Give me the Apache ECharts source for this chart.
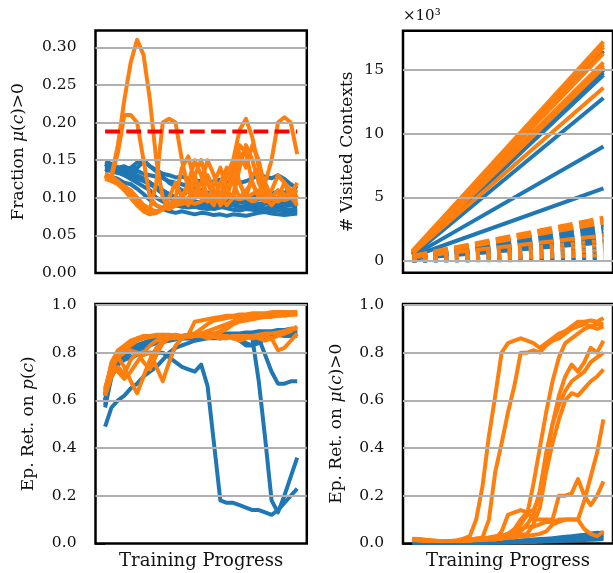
<!DOCTYPE html>
<html><head><meta charset="utf-8">
<script src="https://cdn.jsdelivr.net/npm/echarts@6/dist/echarts.min.js"></script>
<style>html,body{margin:0;padding:0;background:#fff}#c{width:613px;height:573px}</style>
</head><body><div id="c"></div><script>
// ---------- shared x positions (training progress steps) ----------
const progress = [0,1,2,3,4,5,6,7,8,9,10,11,12,13,14,15,16,17,18,19,20,21,22,23,24,25,26,27,28,29,30];
const visitedX = [0, 30];

// ---------- tick labels ----------
const fracTicks = [0, 0.05, 0.10, 0.15, 0.20, 0.25, 0.30];
const visitedTicks = [0, 5, 10, 15];
const retTicks = [0, 0.2, 0.4, 0.6, 0.8, 1.0];
const threshold = 0.188;

// ---------- Fraction mu(c)>0 : blue runs ----------
const fracB1 = [0.145,0.14,0.135,0.13,0.125,0.12,0.115,0.11,0.10,0.095,0.092,0.09,0.088,0.087,0.088,0.086,0.085,0.087,0.088,0.086,0.084,0.083,0.085,0.084,0.083,0.082,0.084,0.083,0.082,0.081,0.080];
const fracB2 = [0.14,0.142,0.138,0.135,0.13,0.128,0.125,0.12,0.115,0.11,0.105,0.10,0.098,0.096,0.095,0.094,0.093,0.092,0.09,0.089,0.09,0.088,0.087,0.088,0.087,0.086,0.087,0.086,0.085,0.084,0.085];
const fracB3 = [0.148,0.145,0.14,0.142,0.138,0.14,0.148,0.142,0.137,0.132,0.13,0.127,0.128,0.125,0.123,0.122,0.12,0.122,0.124,0.121,0.119,0.12,0.122,0.126,0.13,0.128,0.126,0.13,0.125,0.118,0.112];
const fracB4 = [0.135,0.138,0.14,0.137,0.14,0.147,0.15,0.142,0.135,0.128,0.12,0.115,0.11,0.108,0.105,0.10,0.098,0.095,0.093,0.095,0.097,0.098,0.10,0.102,0.105,0.104,0.106,0.108,0.107,0.11,0.108];
const fracB5 = [0.13,0.128,0.125,0.12,0.118,0.112,0.105,0.097,0.09,0.085,0.082,0.08,0.082,0.08,0.078,0.08,0.079,0.077,0.078,0.076,0.078,0.077,0.076,0.078,0.08,0.081,0.079,0.078,0.077,0.078,0.079];
const fracB6 = [0.142,0.14,0.138,0.136,0.133,0.13,0.126,0.12,0.112,0.105,0.10,0.097,0.095,0.093,0.09,0.088,0.086,0.085,0.087,0.09,0.092,0.094,0.093,0.091,0.09,0.092,0.094,0.095,0.093,0.092,0.094];
const fracB7 = [0.138,0.135,0.133,0.13,0.128,0.125,0.122,0.118,0.113,0.108,0.104,0.10,0.097,0.096,0.094,0.092,0.09,0.089,0.091,0.092,0.09,0.088,0.089,0.09,0.092,0.093,0.091,0.09,0.089,0.09,0.088];
const fracB8 = [0.145,0.143,0.14,0.138,0.135,0.136,0.132,0.13,0.128,0.126,0.122,0.12,0.118,0.115,0.112,0.11,0.107,0.105,0.104,0.102,0.10,0.098,0.097,0.096,0.098,0.10,0.099,0.097,0.096,0.095,0.094];
// ---------- Fraction mu(c)>0 : orange runs ----------
const fracO1 = [0.125,0.13,0.17,0.23,0.28,0.31,0.29,0.23,0.15,0.10,0.085,0.09,0.10,0.095,0.092,0.095,0.10,0.098,0.10,0.105,0.10,0.098,0.10,0.105,0.11,0.10,0.098,0.10,0.097,0.10,0.10];
const fracO2 = [0.13,0.128,0.16,0.21,0.21,0.20,0.15,0.10,0.09,0.087,0.085,0.09,0.10,0.12,0.15,0.13,0.10,0.09,0.12,0.14,0.12,0.10,0.11,0.12,0.10,0.095,0.10,0.11,0.10,0.105,0.11];
const fracO3 = [0.13,0.125,0.12,0.115,0.11,0.10,0.09,0.085,0.12,0.20,0.205,0.20,0.15,0.11,0.10,0.12,0.15,0.13,0.10,0.09,0.10,0.14,0.17,0.15,0.12,0.10,0.11,0.13,0.12,0.10,0.095];
const fracO4 = [0.128,0.125,0.12,0.115,0.108,0.10,0.09,0.085,0.08,0.085,0.09,0.10,0.14,0.155,0.12,0.10,0.13,0.11,0.09,0.10,0.15,0.19,0.205,0.18,0.14,0.10,0.09,0.10,0.12,0.11,0.10];
const fracO5 = [0.132,0.128,0.122,0.115,0.105,0.095,0.088,0.082,0.08,0.085,0.10,0.12,0.10,0.09,0.13,0.15,0.12,0.10,0.095,0.11,0.13,0.12,0.10,0.095,0.10,0.12,0.15,0.20,0.207,0.20,0.158];
const fracO6 = [0.125,0.122,0.118,0.11,0.10,0.09,0.082,0.078,0.08,0.085,0.09,0.095,0.10,0.11,0.13,0.10,0.095,0.12,0.14,0.11,0.10,0.16,0.14,0.17,0.15,0.11,0.10,0.095,0.10,0.105,0.12];
const fracO7 = [0.13,0.127,0.12,0.112,0.10,0.09,0.085,0.08,0.082,0.085,0.088,0.09,0.092,0.095,0.10,0.105,0.10,0.098,0.10,0.13,0.15,0.12,0.10,0.13,0.14,0.12,0.10,0.098,0.10,0.102,0.09];
const fracO8 = [0.128,0.125,0.12,0.112,0.105,0.097,0.09,0.085,0.082,0.085,0.09,0.093,0.095,0.10,0.11,0.10,0.098,0.10,0.12,0.10,0.13,0.17,0.16,0.12,0.10,0.098,0.10,0.11,0.105,0.10,0.105];

// ---------- # Visited Contexts (x1000): [start, end] per run ----------
const visSolidBlue = [[0.6,16.5],[0.55,15.2],[0.5,15.0],[0.6,14.8],[0.5,14.6],[0.45,12.8],[0.4,9.0],[0.35,5.7]];
const visSolidOrange = [[0.8,17.23],[0.75,17.0],[0.8,16.8],[0.7,16.3],[0.7,15.6],[0.65,15.4],[0.6,15.2],[0.6,13.6]];
const visDashBlue = [[0.35,2.85],[0.3,2.6],[0.3,2.3],[0.25,2.05],[0.25,1.7],[0.2,1.45]];
const visDashOrange = [[0.4,3.4],[0.4,3.2],[0.35,3.0],[0.3,2.0]];
const visDotBlue = [[0.05,1.05],[0.05,0.65],[0.03,0.3],[0.02,0.1]];
const visDotOrange = [[0.08,1.6],[0.06,1.25],[0.05,0.85],[0.04,0.45]];

// ---------- Ep. Ret. on p(c) : blue runs ----------
const retB1 = [0.49,0.57,0.6,0.62,0.65,0.67,0.7,0.72,0.74,0.77,0.8,0.82,0.83,0.84,0.85,0.855,0.86,0.86,0.86,0.865,0.87,0.87,0.87,0.87,0.865,0.87,0.87,0.875,0.87,0.87,0.87];
const retB2 = [0.57,0.7,0.75,0.77,0.78,0.79,0.8,0.8,0.8,0.8,0.78,0.76,0.74,0.73,0.72,0.75,0.66,0.42,0.18,0.17,0.17,0.16,0.15,0.14,0.14,0.13,0.12,0.14,0.17,0.2,0.23];
const retB3 = [0.6,0.73,0.78,0.8,0.82,0.83,0.84,0.845,0.85,0.855,0.86,0.86,0.86,0.865,0.865,0.87,0.87,0.87,0.875,0.87,0.86,0.86,0.87,0.86,0.68,0.44,0.18,0.13,0.2,0.28,0.36];
const retB4 = [0.62,0.74,0.79,0.81,0.82,0.83,0.84,0.85,0.85,0.855,0.86,0.86,0.86,0.865,0.87,0.87,0.87,0.865,0.86,0.87,0.87,0.85,0.83,0.83,0.86,0.79,0.72,0.67,0.67,0.68,0.68];
const retB5 = [0.58,0.72,0.77,0.8,0.81,0.82,0.83,0.84,0.845,0.85,0.855,0.86,0.86,0.86,0.865,0.865,0.87,0.865,0.86,0.87,0.87,0.87,0.865,0.87,0.875,0.875,0.88,0.88,0.88,0.885,0.885];
const retB6 = [0.62,0.74,0.79,0.81,0.82,0.83,0.84,0.85,0.855,0.86,0.86,0.865,0.86,0.86,0.87,0.87,0.87,0.87,0.875,0.87,0.87,0.86,0.84,0.83,0.84,0.86,0.87,0.875,0.88,0.88,0.88];
const retB7 = [0.6,0.7,0.75,0.78,0.8,0.81,0.82,0.83,0.84,0.845,0.85,0.855,0.86,0.86,0.86,0.86,0.865,0.87,0.87,0.87,0.875,0.875,0.88,0.88,0.88,0.88,0.885,0.885,0.89,0.89,0.89];
const retB8 = [0.6,0.72,0.77,0.8,0.82,0.83,0.84,0.85,0.85,0.86,0.86,0.86,0.865,0.87,0.87,0.87,0.875,0.875,0.88,0.88,0.88,0.88,0.885,0.885,0.89,0.89,0.89,0.895,0.895,0.9,0.9];
// ---------- Ep. Ret. on p(c) : orange runs ----------
const retO1 = [0.63,0.75,0.8,0.82,0.84,0.855,0.865,0.87,0.87,0.875,0.875,0.87,0.87,0.875,0.93,0.935,0.94,0.945,0.95,0.955,0.955,0.96,0.96,0.965,0.965,0.965,0.97,0.97,0.97,0.97,0.97];
const retO2 = [0.64,0.73,0.78,0.74,0.68,0.63,0.7,0.77,0.82,0.85,0.86,0.87,0.87,0.875,0.88,0.9,0.92,0.935,0.94,0.945,0.95,0.95,0.955,0.955,0.96,0.96,0.96,0.965,0.965,0.97,0.965];
const retO3 = [0.65,0.74,0.78,0.8,0.81,0.8,0.79,0.8,0.74,0.68,0.76,0.83,0.86,0.87,0.87,0.875,0.88,0.88,0.89,0.91,0.93,0.94,0.945,0.95,0.95,0.955,0.955,0.96,0.96,0.96,0.96];
const retO4 = [0.62,0.7,0.74,0.71,0.77,0.8,0.76,0.73,0.79,0.84,0.86,0.86,0.865,0.87,0.87,0.87,0.875,0.87,0.86,0.86,0.87,0.87,0.865,0.86,0.87,0.87,0.86,0.81,0.82,0.85,0.88];
const retO5 = [0.63,0.76,0.81,0.83,0.85,0.86,0.865,0.87,0.87,0.87,0.87,0.875,0.87,0.865,0.87,0.87,0.86,0.865,0.87,0.87,0.86,0.85,0.86,0.87,0.875,0.88,0.88,0.885,0.89,0.9,0.9];
const retO6 = [0.64,0.75,0.8,0.82,0.84,0.86,0.87,0.87,0.875,0.875,0.87,0.87,0.87,0.87,0.875,0.88,0.88,0.88,0.885,0.9,0.92,0.93,0.935,0.94,0.945,0.95,0.95,0.955,0.955,0.96,0.96];
const retO7 = [0.62,0.74,0.79,0.81,0.83,0.85,0.86,0.865,0.87,0.87,0.87,0.87,0.865,0.865,0.87,0.87,0.87,0.865,0.86,0.865,0.87,0.87,0.87,0.87,0.86,0.85,0.86,0.87,0.88,0.89,0.91];
const retO8 = [0.65,0.75,0.72,0.69,0.72,0.76,0.8,0.83,0.85,0.86,0.87,0.87,0.87,0.875,0.88,0.88,0.89,0.9,0.91,0.92,0.93,0.94,0.94,0.945,0.95,0.95,0.955,0.955,0.96,0.96,0.965];

// ---------- Ep. Ret. on mu(c)>0 : blue runs ----------
const hardB1 = [0.005,0.004,0.004,0.003,0.003,0.003,0.002,0.002,0.003,0.003,0.004,0.004,0.005,0.005,0.006,0.007,0.008,0.01,0.012,0.013,0.015,0.017,0.02,0.022,0.025,0.028,0.03,0.035,0.04,0.045,0.042];
const hardB2 = [0.004,0.004,0.003,0.003,0.002,0.002,0.002,0.003,0.003,0.003,0.004,0.004,0.004,0.005,0.005,0.006,0.007,0.008,0.01,0.011,0.012,0.014,0.016,0.018,0.02,0.022,0.025,0.027,0.03,0.032,0.035];
const hardB3 = [0.006,0.005,0.004,0.004,0.003,0.003,0.003,0.003,0.003,0.004,0.004,0.004,0.005,0.005,0.005,0.006,0.006,0.007,0.008,0.009,0.01,0.011,0.012,0.014,0.015,0.017,0.018,0.02,0.022,0.024,0.025];
const hardB4 = [0.003,0.003,0.002,0.002,0.002,0.002,0.002,0.002,0.002,0.003,0.003,0.003,0.003,0.004,0.004,0.004,0.005,0.005,0.006,0.006,0.007,0.008,0.009,0.01,0.011,0.012,0.013,0.014,0.015,0.016,0.018];
const hardB5 = [0.005,0.004,0.004,0.003,0.003,0.003,0.003,0.004,0.004,0.004,0.005,0.005,0.006,0.007,0.008,0.009,0.01,0.012,0.014,0.016,0.018,0.02,0.022,0.025,0.028,0.03,0.033,0.036,0.04,0.043,0.046];
// ---------- Ep. Ret. on mu(c)>0 : orange runs ----------
const hardO1 = [0.02,0.018,0.015,0.012,0.01,0.01,0.01,0.012,0.02,0.03,0.1,0.24,0.45,0.62,0.8,0.84,0.85,0.86,0.85,0.84,0.82,0.84,0.86,0.88,0.89,0.91,0.93,0.93,0.935,0.93,0.945];
const hardO2 = [0.018,0.016,0.014,0.012,0.01,0.01,0.01,0.01,0.012,0.015,0.02,0.025,0.1,0.3,0.42,0.55,0.66,0.8,0.8,0.81,0.8,0.83,0.85,0.86,0.88,0.9,0.91,0.92,0.91,0.92,0.92];
const hardO3 = [0.015,0.015,0.012,0.01,0.01,0.01,0.01,0.01,0.012,0.015,0.02,0.02,0.025,0.03,0.03,0.04,0.05,0.08,0.12,0.25,0.4,0.55,0.68,0.78,0.84,0.86,0.88,0.9,0.91,0.9,0.91];
const hardO4 = [0.016,0.014,0.012,0.01,0.01,0.01,0.01,0.012,0.014,0.015,0.02,0.02,0.02,0.025,0.03,0.04,0.06,0.1,0.13,0.14,0.2,0.35,0.5,0.62,0.7,0.75,0.72,0.76,0.82,0.8,0.85];
const hardO5 = [0.015,0.013,0.012,0.01,0.01,0.01,0.01,0.01,0.012,0.015,0.015,0.02,0.02,0.02,0.025,0.03,0.04,0.05,0.08,0.12,0.22,0.38,0.5,0.58,0.64,0.68,0.7,0.72,0.76,0.78,0.8];
const hardO6 = [0.014,0.013,0.012,0.01,0.01,0.01,0.01,0.01,0.01,0.012,0.015,0.015,0.02,0.02,0.02,0.025,0.03,0.035,0.04,0.08,0.15,0.3,0.42,0.52,0.6,0.63,0.62,0.65,0.68,0.7,0.73];
const hardO7 = [0.016,0.014,0.012,0.01,0.01,0.01,0.01,0.01,0.012,0.014,0.015,0.02,0.02,0.02,0.02,0.025,0.025,0.03,0.03,0.035,0.04,0.05,0.08,0.09,0.1,0.1,0.1,0.18,0.28,0.38,0.52];
const hardO8 = [0.015,0.013,0.012,0.01,0.01,0.01,0.01,0.01,0.01,0.012,0.015,0.015,0.018,0.02,0.05,0.12,0.13,0.14,0.13,0.1,0.1,0.1,0.1,0.2,0.2,0.21,0.27,0.2,0.16,0.2,0.26];
const hardO9 = [0.017,0.015,0.012,0.011,0.01,0.01,0.01,0.01,0.01,0.012,0.013,0.014,0.015,0.015,0.03,0.04,0.05,0.06,0.07,0.07,0.08,0.09,0.09,0.1,0.1,0.1,0.1,0.06,0.04,0.03,0.05];

// ---------- rendering ----------
const BLUE = '#1f77b4', ORANGE = '#ff7f0e', GRIDC = '#b0b0b0';
const FONT = 'DejaVu Serif';
const LW = 4;

function line(xs, ys, color, ax, extra) {
  const s = {
    type: 'line', xAxisIndex: ax, yAxisIndex: ax,
    data: xs.map((x, i) => [x, ys[i]]),
    showSymbol: false, symbol: 'none', silent: true, animation: false, z: 3,
    lineStyle: { color: color, width: LW, cap: 'butt', join: 'round' }
  };
  if (extra && extra.dash) s.lineStyle.type = extra.dash;
  if (extra && extra.z) s.z = extra.z;
  return s;
}
function gridLines(ax, ticks) {
  return {
    type: 'line', xAxisIndex: ax, yAxisIndex: ax, data: [], silent: true, animation: false, z: 1,
    markLine: {
      silent: true, animation: false, symbol: ['none', 'none'], label: { show: false },
      lineStyle: { color: GRIDC, width: 1.8, type: 'solid' },
      emphasis: { disabled: true },
      data: ticks.map(v => ({ yAxis: v }))
    }
  };
}

const grids = [
  { left: 95.5, top: 30.5, width: 211.3, height: 242.5 },
  { left: 403, top: 30.7, width: 210, height: 242.1 },
  { left: 95.5, top: 304, width: 211.3, height: 239.4 },
  { left: 403, top: 304, width: 210, height: 239.4 }
].map(g => Object.assign(g, { show: true, borderColor: '#000', borderWidth: 2.5, backgroundColor: 'transparent', containLabel: false }));

function xAx(i, label) {
  return {
    type: 'value', gridIndex: i, min: -1.5, max: 31.5,
    axisLine: { show: false }, axisTick: { show: false }, axisLabel: { show: false }, splitLine: { show: false },
    name: label || '', nameLocation: 'middle', nameGap: 9,
    nameTextStyle: { fontFamily: FONT, fontSize: 18, color: '#111', verticalAlign: 'top' }
  };
}
function yAx(i, min, max, ticks, fmt, name, gap) {
  return {
    type: 'value', gridIndex: i, min: min, max: max,
    axisLine: { show: false },
    axisTick: { show: true, length: 10, inside: false, customValues: ticks, lineStyle: { color: '#000', width: 1.5 } },
    axisLabel: { show: true, customValues: ticks, margin: 19, formatter: fmt, fontFamily: FONT, fontSize: 15.5, color: '#111' },
    splitLine: { show: false },
    name: name, nameLocation: 'middle', nameRotate: 90, nameGap: gap,
    nameTextStyle: {
      fontFamily: FONT, fontSize: 17, color: '#111',
      rich: {
        n: { fontFamily: FONT, fontSize: 17, color: '#111' },
        i: { fontFamily: FONT, fontSize: 17, color: '#111', fontStyle: 'italic' }
      }
    }
  };
}

const series = [];
series.push(gridLines(0, fracTicks.slice(1)));
series.push(gridLines(1, visitedTicks));
series.push(gridLines(2, retTicks.slice(1)));
series.push(gridLines(3, retTicks.slice(1)));

// panel 0
[fracB1, fracB2, fracB3, fracB4, fracB5, fracB6, fracB7, fracB8].forEach(a => series.push(line(progress, a, BLUE, 0)));
[fracO1, fracO2, fracO3, fracO4, fracO5, fracO6, fracO7, fracO8].forEach(a => series.push(line(progress, a, ORANGE, 0, { z: 4 })));
series.push(line([progress[0], progress[progress.length - 1]], [threshold, threshold], '#ff0000', 0, { dash: [14.8, 6.4], z: 5 }));

// panel 1
visSolidBlue.forEach(a => series.push(line(visitedX, a, BLUE, 1)));
visSolidOrange.forEach(a => series.push(line(visitedX, a, ORANGE, 1, { z: 4 })));
visDashBlue.forEach(a => series.push(line(visitedX, a, BLUE, 1, { dash: [14.8, 6.4] })));
visDashOrange.forEach(a => series.push(line(visitedX, a, ORANGE, 1, { dash: [14.8, 6.4], z: 4 })));
visDotBlue.forEach(a => series.push(line(visitedX, a, BLUE, 1, { dash: [4, 6.6] })));
visDotOrange.forEach(a => series.push(line(visitedX, a, ORANGE, 1, { dash: [4, 6.6], z: 4 })));

// panel 2
[retB1, retB2, retB3, retB4, retB5, retB6, retB7, retB8].forEach(a => series.push(line(progress, a, BLUE, 2)));
[retO1, retO2, retO3, retO4, retO5, retO6, retO7, retO8].forEach(a => series.push(line(progress, a, ORANGE, 2, { z: 4 })));

// panel 3
[hardB1, hardB2, hardB3, hardB4, hardB5].forEach(a => series.push(line(progress, a, BLUE, 3)));
[hardO1, hardO2, hardO3, hardO4, hardO5, hardO6, hardO7, hardO8, hardO9].forEach(a => series.push(line(progress, a, ORANGE, 3, { z: 4 })));

const option = {
  animation: false,
  backgroundColor: '#fff',
  textStyle: { fontFamily: FONT },
  grid: grids,
  xAxis: [xAx(0), xAx(1), xAx(2, 'Training Progress'), xAx(3, 'Training Progress')],
  yAxis: [
    yAx(0, 0, 0.3224, fracTicks, v => v.toFixed(2), '{n|Fraction }{i|μ}{n|(}{i|c}{n|)>0}', 68),
    yAx(1, -0.93, 18.09, visitedTicks, v => String(Math.round(v)), '{n|# Visited Contexts}', 47),
    yAx(2, 0, 1.004, retTicks, v => v.toFixed(1), '{n|Ep. Ret. on }{i|p}{n|(}{i|c}{n|)}', 58),
    yAx(3, 0, 1.004, retTicks, v => v.toFixed(1), '{n|Ep. Ret. on }{i|μ}{n|(}{i|c}{n|)>0}', 58)
  ],
  graphic: [
    { type: 'text', left: 403, top: 9, silent: true,
      style: { text: '×10³', font: '15px "DejaVu Serif"', fill: '#111' } }
  ],
  series: series
};
const chart = echarts.init(document.getElementById('c'), null, { renderer: 'canvas' });
chart.setOption(option);
</script></body></html>
